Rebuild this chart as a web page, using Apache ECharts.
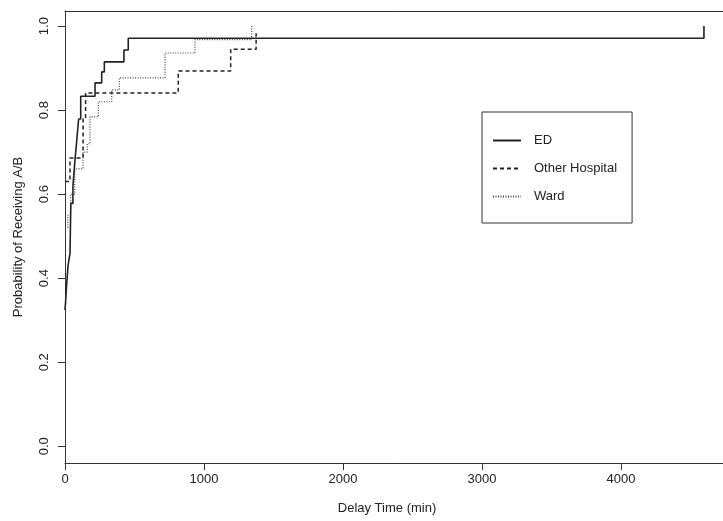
<!DOCTYPE html>
<html>
<head>
<meta charset="utf-8">
<script src="https://cdn.jsdelivr.net/npm/echarts@6/dist/echarts.min.js"></script>
<style>html,body{margin:0;padding:0;background:#fff}#c{width:723px;height:521px}</style>
</head>
<body>
<div id="c"></div>
<script>
// Step functions: [delay time (min), cumulative probability]
const edTimes = [0, 5, 10, 22, 36, 42, 57, 70, 84, 98, 113, 216, 264, 283, 424, 455, 4597];
const edProb  = [0.324, 0.348, 0.376, 0.431, 0.459, 0.578, 0.619, 0.674, 0.726, 0.779, 0.833, 0.865, 0.891, 0.915, 0.943, 0.971, 1.0];

const otherTimes = [0, 36, 130, 148, 815, 1192, 1375];
const otherProb  = [0.63, 0.686, 0.78, 0.841, 0.893, 0.945, 0.983];

const wardTimes = [0, 20, 40, 70, 130, 160, 180, 240, 336, 391, 720, 935, 1343];
const wardProb  = [0.52, 0.55, 0.60, 0.66, 0.70, 0.72, 0.784, 0.82, 0.848, 0.877, 0.936, 0.968, 1.0];

const seriesNames = ['ED', 'Other Hospital', 'Ward'];
const xTicks = [0, 1000, 2000, 3000, 4000];
const yTicks = [0, 0.2, 0.4, 0.6, 0.8, 1.0];

function pairs(t, p) { return t.map((v, i) => [v, p[i]]); }

const chart = echarts.init(document.getElementById('c'), null, {renderer: 'canvas'});
const txt = '#222';
const font = 'Liberation Sans, Arial, sans-serif';
const xMax = 4734;
chart.setOption({
  animation: false,
  backgroundColor: '#fff',
  grid: {left: 65, top: 11, right: 0, bottom: 58, show: false},
  xAxis: [{
    type: 'value', min: 0, max: xMax,
    name: 'Delay Time (min)', nameLocation: 'middle', nameGap: 39,
    nameTextStyle: {color: txt, fontSize: 13, fontFamily: font, padding: [0, 14, 0, 0]},
    axisLine: {show: true, onZero: false, lineStyle: {color: '#333', width: 1}},
    axisTick: {show: true, length: 7, lineStyle: {color: '#333'}, customValues: xTicks},
    axisLabel: {color: txt, fontSize: 13, fontFamily: font, margin: 10, customValues: xTicks, formatter: v => String(v)},
    splitLine: {show: false}
  }, {
    type: 'value', min: 0, max: xMax, position: 'top',
    axisLine: {show: true, onZero: false, lineStyle: {color: '#333', width: 1}},
    axisTick: {show: false}, axisLabel: {show: false}, splitLine: {show: false}
  }],
  yAxis: {
    type: 'value', min: -0.04, max: 1.036,
    name: 'Probability of Receiving A/B', nameLocation: 'middle', nameGap: 40, nameRotate: 90,
    nameTextStyle: {color: txt, fontSize: 13, fontFamily: font},
    axisLine: {show: true, onZero: false, lineStyle: {color: '#333', width: 1}},
    axisTick: {show: true, length: 7, lineStyle: {color: '#333'}, customValues: yTicks},
    axisLabel: {color: txt, fontSize: 13, fontFamily: font, margin: 14, rotate: 90, customValues: yTicks, formatter: v => v.toFixed(1)},
    splitLine: {show: false}
  },
  legend: {
    orient: 'vertical', left: 482, top: 112,
    padding: [22, 15, 20, 10],
    itemWidth: 28, itemHeight: 14, itemGap: 15,
    borderColor: '#333', borderWidth: 1,
    itemStyle: {color: 'rgba(0,0,0,0)', borderWidth: 0},
    textStyle: {color: txt, fontSize: 13, fontFamily: font, padding: [0, 0, 0, 8]},
    data: seriesNames
  },
  series: [
    {name: seriesNames[0], type: 'line', step: 'end', symbol: 'none', data: pairs(edTimes, edProb),
     lineStyle: {color: '#222', width: 1.6, type: 'solid'}, itemStyle: {color: '#222'}, z: 3},
    {name: seriesNames[1], type: 'line', step: 'end', symbol: 'none', data: pairs(otherTimes, otherProb),
     lineStyle: {color: '#222', width: 1.5, type: [4, 3]}, itemStyle: {color: '#222'}, z: 2},
    {name: seriesNames[2], type: 'line', step: 'end', symbol: 'none', data: pairs(wardTimes, wardProb),
     lineStyle: {color: '#444', width: 1.2, type: [1, 1.5]}, itemStyle: {color: '#444'}, z: 1}
  ]
});
</script>
</body>
</html>
